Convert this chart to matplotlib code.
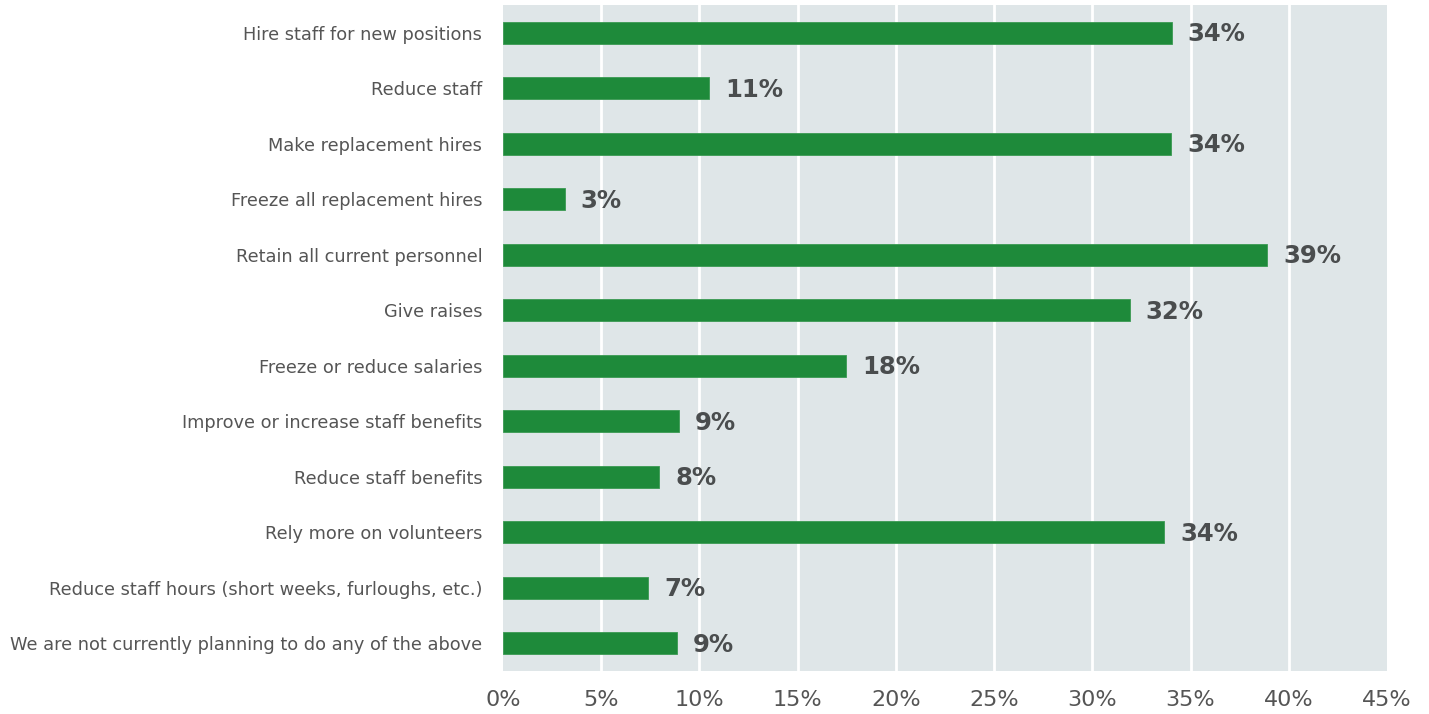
import matplotlib
matplotlib.use("Agg")
import matplotlib.pyplot as plt
from matplotlib.ticker import FuncFormatter

categories = [
    "Hire staff for new positions",
    "Reduce staff",
    "Make replacement hires",
    "Freeze all replacement hires",
    "Retain all current personnel",
    "Give raises",
    "Freeze or reduce salaries",
    "Improve or increase staff benefits",
    "Reduce staff benefits",
    "Rely more on volunteers",
    "Reduce staff hours (short weeks, furloughs, etc.)",
    "We are not currently planning to do any of the above",
]
values = [34.05, 10.5, 34.0, 3.15, 38.9, 31.9, 17.45, 8.95, 7.95, 33.65, 7.4, 8.85]
value_labels = ["34%", "11%", "34%", "3%", "39%", "32%", "18%", "9%", "8%", "34%", "7%", "9%"]
xticks = [0, 5, 10, 15, 20, 25, 30, 35, 40, 45]

fig = plt.figure(figsize=(14.29, 7.14), dpi=100)
ax = fig.add_axes([0.352, 0.0602, 0.9706 - 0.352, 0.993 - 0.0602])
ax.set_facecolor("#dfe6e8")

y = list(range(len(categories)))
ax.barh(y, values, height=0.4, color="#1e8a3a", edgecolor="#3a9a52", linewidth=0.6, zorder=3)
for yi, v, lab in zip(y, values, value_labels):
    ax.annotate(lab, (v, yi), xytext=(11.5, -1), textcoords="offset points",
                ha="left", va="center", fontsize=17.5, fontweight="bold", color="#4a4d4e", zorder=4)

ax.set_ylim(len(categories) - 0.5, -0.5)
ax.set_xlim(0, 45)
ax.set_yticks(y)
ax.set_yticklabels(categories, fontsize=12.75, color="#555555")
ax.set_xticks(xticks)
ax.xaxis.set_major_formatter(FuncFormatter(lambda x, p: f"{int(x)}%"))
ax.tick_params(axis="x", length=0, pad=14, labelsize=16, labelcolor="#555555")
ax.tick_params(axis="y", length=0, pad=15)
ax.grid(axis="x", color="white", linewidth=2, zorder=1)
ax.set_axisbelow(True)
gl = ax.xaxis.get_gridlines()
gl[0].set_visible(False)
gl[-1].set_visible(False)
for s in ax.spines.values():
    s.set_visible(False)

fig.savefig("out.png", dpi=100)
